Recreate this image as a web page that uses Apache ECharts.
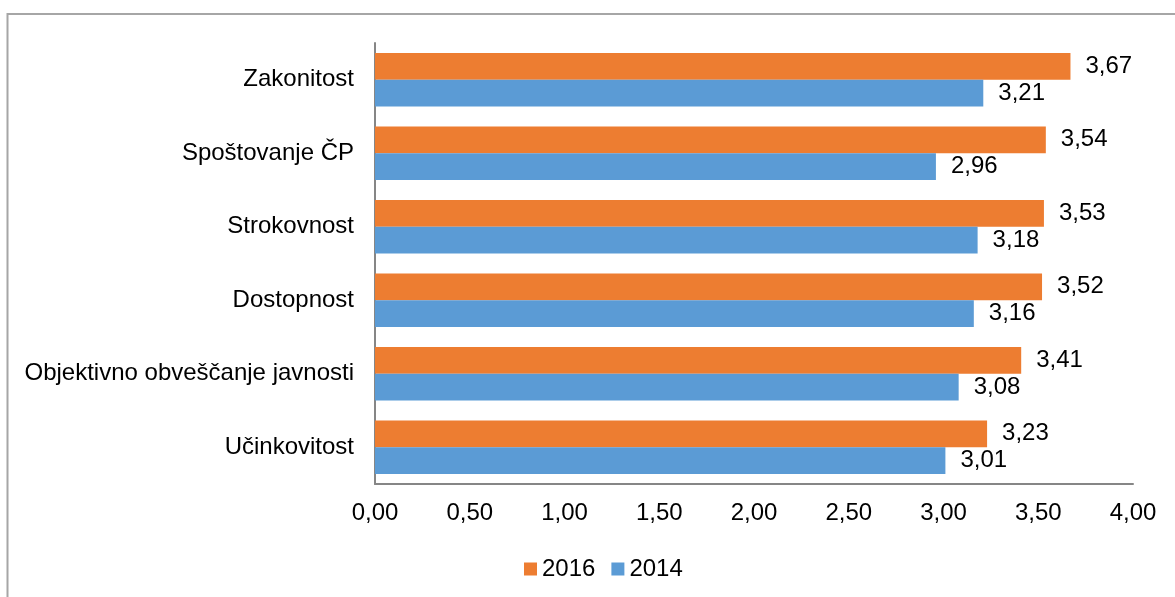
<!DOCTYPE html>
<html>
<head>
<meta charset="utf-8">
<script src="https://cdn.jsdelivr.net/npm/echarts@6/dist/echarts.min.js"></script>
<style>
  html, body { margin: 0; padding: 0; background: #fff; }
  #chart { width: 1175px; height: 597px; }
</style>
</head>
<body>
<div id="chart"></div>
<script>
// podatki
const categories = ['Zakonitost', 'Spoštovanje ČP', 'Strokovnost', 'Dostopnost', 'Objektivno obveščanje javnosti', 'Učinkovitost']
const values2016 = [3.67, 3.54, 3.53, 3.52, 3.41, 3.23]
const values2014 = [3.21, 2.96, 3.18, 3.16, 3.08, 3.01]
const seriesNames = ['2016', '2014']
const xMin = 0
const xMax = 4
const xStep = 0.5

const fmt = v => v.toFixed(2).replace('.', ',')
const FONT = '"Liberation Sans", Arial, sans-serif'
const FS = 24

const chart = echarts.init(document.getElementById('chart'))

const option = {
  animation: false,
  textStyle: { fontFamily: FONT },
  graphic: [{
    type: 'rect',
    shape: { x: 7.5, y: 14, width: 1200, height: 620 },
    style: { fill: 'none', stroke: '#a6a6a6', lineWidth: 2 },
    silent: true
  }],
  grid: { left: 375, right: 42, top: 43, bottom: 113 },
  legend: {
    data: seriesNames,
    top: 552,
    left: 519,
    itemWidth: 13,
    itemHeight: 13,
    itemGap: 16,
    icon: 'rect',
    textStyle: { fontSize: FS, color: '#000', fontFamily: FONT }
  },
  xAxis: {
    type: 'value',
    min: xMin,
    max: xMax,
    interval: xStep,
    axisLine: { show: true, lineStyle: { color: '#868686', width: 2 } },
    axisTick: { show: false },
    splitLine: { show: false },
    axisLabel: {
      margin: 17,
      fontSize: FS,
      color: '#000',
      formatter: v => fmt(v)
    }
  },
  yAxis: {
    type: 'category',
    data: categories,
    inverse: true,
    axisLine: { show: true, lineStyle: { color: '#868686', width: 2 } },
    axisTick: { show: false },
    axisLabel: { margin: 21, fontSize: FS, color: '#000' }
  },
  series: [
    {
      name: seriesNames[0],
      type: 'bar',
      data: values2016,
      barGap: '0%',
      barCategoryGap: '27%',
      itemStyle: { color: '#ED7D31' },
      label: {
        show: true, position: 'right', distance: 15,
        fontSize: FS, color: '#000',
        formatter: p => fmt(p.value)
      }
    },
    {
      name: seriesNames[1],
      type: 'bar',
      data: values2014,
      barGap: '0%',
      barCategoryGap: '27%',
      itemStyle: { color: '#5B9BD5' },
      label: {
        show: true, position: 'right', distance: 15,
        fontSize: FS, color: '#000',
        formatter: p => fmt(p.value)
      }
    }
  ]
}

chart.setOption(option)
</script>
</body>
</html>
